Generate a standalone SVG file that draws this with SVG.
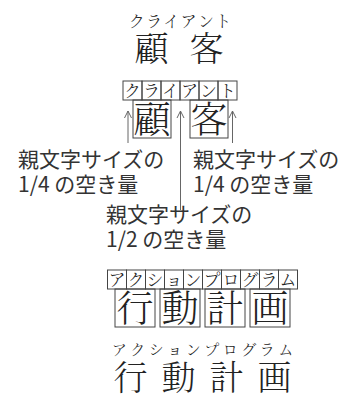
<svg xmlns="http://www.w3.org/2000/svg" width="349" height="396" viewBox="0 0 349 396">
<style>
.m{font-family:"Noto Serif CJK JP","Noto Sans CJK JP",serif;fill:#222;text-anchor:middle;font-weight:300}
.g{font-family:"Noto Sans CJK JP","Noto Sans",sans-serif;fill:#333;font-size:21px}
.b{fill:none;stroke:#444;stroke-width:1}
.a{fill:none;stroke:#666;stroke-width:1}
</style>
<rect width="349" height="396" fill="#fff"/>
<g id="top">
<text class="m" font-size="16" x="136.7 154 171.3 188.6 205.9 223.2" y="27">クライアント</text>
<text class="m" font-size="34" x="151.5 206.5" y="61">顧客</text>
</g>
<g id="boxed-kokyaku">
<g class="b">
<rect x="123" y="81" width="19" height="19"/><rect x="142" y="81" width="19" height="19"/><rect x="161" y="81" width="19" height="19"/><rect x="180" y="81" width="19" height="19"/><rect x="199" y="81" width="19" height="19"/><rect x="218" y="81" width="19" height="19"/>
<rect x="133" y="100" width="38" height="38"/><rect x="190" y="100" width="38" height="38"/>
</g>
<text class="m" font-size="17" x="132.5 151.5 170.5 189.5 208.5 227.5" y="96.5">クライアント</text>
<text class="m" font-size="37" x="152 209" y="132.5">顧客</text>
</g>
<g id="connectors">
<path class="a" d="M128 143V111M124.5 118L128 111L131.5 118"/>
<path class="a" d="M180.5 210V111M177 118L180.5 111L184 118"/>
<path class="a" d="M232.5 143V111M229 118L232.5 111L236 118"/>
</g>
<g id="label-left"><text class="g" x="18" y="167">親文字サイズの<tspan x="18" y="192">1/4 の空き量</tspan></text></g>
<g id="label-right"><text class="g" x="193" y="167">親文字サイズの<tspan x="193" y="192">1/4 の空き量</tspan></text></g>
<g id="label-bottom"><text class="g" x="106" y="222">親文字サイズの<tspan x="106" y="247">1/2 の空き量</tspan></text></g>
<g id="boxed-action">
<g class="b">
<rect x="107.5" y="270" width="19" height="19"/><rect x="126.5" y="270" width="19" height="19"/><rect x="145.5" y="270" width="19" height="19"/><rect x="164.5" y="270" width="19" height="19"/><rect x="183.5" y="270" width="19" height="19"/><rect x="202.5" y="270" width="19" height="19"/><rect x="221.5" y="270" width="19" height="19"/><rect x="240.5" y="270" width="19" height="19"/><rect x="259.5" y="270" width="19" height="19"/><rect x="278.5" y="270" width="19" height="19"/>
<rect x="115" y="289" width="40" height="38"/><rect x="160" y="289" width="40" height="38"/><rect x="205" y="289" width="40" height="38"/><rect x="250" y="289" width="40" height="38"/>
</g>
<text class="m" font-size="17" x="117 136 155 174 193 212 231 250 269 288" y="285.5">アクションプログラム</text>
<text class="m" font-size="37" x="135 180 225 270" y="321.5">行動計画</text>
</g>
<g id="bottom">
<text class="m" font-size="15" x="119.25 137.75 156.25 174.75 193.25 211.75 230.25 248.75 267.25 285.75" y="355">アクションプログラム</text>
<text class="m" font-size="34" x="130.5 178.5 226.5 274.5" y="390">行動計画</text>
</g>
</svg>
